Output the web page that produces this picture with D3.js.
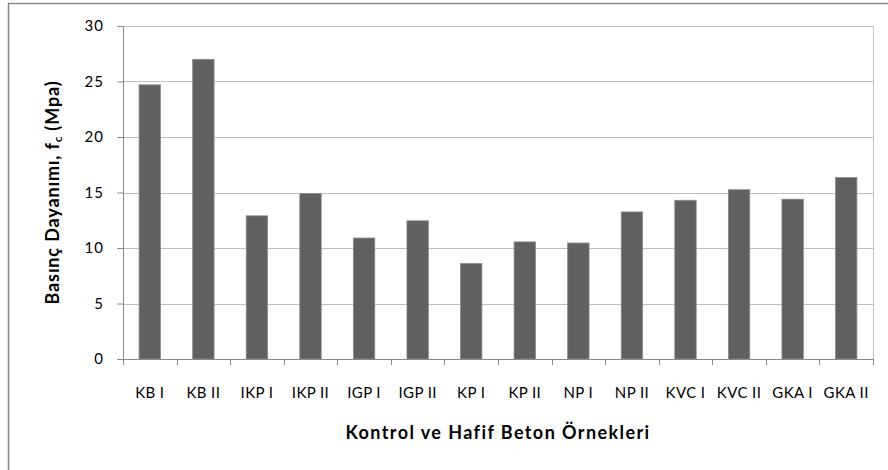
<!DOCTYPE html>
<meta charset="utf-8">
<style>
body { margin: 0; background: #fff; }
text { font-family: Lato, "Open Sans", sans-serif; fill: #000; }
.grid line { stroke: #bdbdbd; stroke-width: 1px; }
.axis path, .axis line { stroke: #8a8a8a; }
.bar { fill: #606060; stroke: #8c8c8c; stroke-width: 0.8px; }
</style>
<svg width="888" height="470"></svg>
<script src="https://d3js.org/d3.v7.min.js"></script>
<script>

var categories = ["KB I", "KB II", "IKP I", "IKP II", "IGP I", "IGP II", "KP I", "KP II",
                  "NP I", "NP II", "KVC I", "KVC II", "GKA I", "GKA II"];
var values = [24.7, 27.0, 12.9, 14.9, 10.9, 12.45, 8.6, 10.55, 10.45, 13.25, 14.3, 15.25, 14.4, 16.35];
var yTicks = [0, 5, 10, 15, 20, 25, 30];

var svg = d3.select("svg");
var margin = {left: 123, right: 15, top: 26, bottom: 111};
var width = 888 - margin.left - margin.right,
    height = 470 - margin.top - margin.bottom;

// outer chart frame (runs off the right and bottom edges)
svg.append("rect")
    .attr("x", 8.5).attr("y", 3.5)
    .attr("width", 900).attr("height", 500)
    .attr("fill", "none")
    .attr("stroke", "#878787")
    .attr("stroke-width", 1.5);

var g = svg.append("g").attr("transform", "translate(" + margin.left + "," + margin.top + ")");

var x = d3.scaleBand()
    .domain(categories)
    .range([0, width])
    .paddingInner(0.6)
    .paddingOuter(0.3);

var y = d3.scaleLinear()
    .domain([0, 30])
    .range([height, 0]);

// gridlines
g.append("g").attr("class", "grid")
  .selectAll("line")
  .data(yTicks.filter(function(d) { return d > 0; }))
  .enter().append("line")
    .attr("x1", 0).attr("x2", width)
    .attr("y1", function(d) { return Math.round(y(d)) + 0.5; })
    .attr("y2", function(d) { return Math.round(y(d)) + 0.5; });

// right border of plot area
g.append("line")
    .attr("x1", width + 0.5).attr("x2", width + 0.5)
    .attr("y1", 0).attr("y2", height)
    .attr("stroke", "#c4c4c4");

// bars
g.selectAll(".bar")
    .data(values)
  .enter().append("rect")
    .attr("class", "bar")
    .attr("x", function(d, i) { return x(categories[i]); })
    .attr("width", x.bandwidth())
    .attr("y", function(d) { return y(d); })
    .attr("height", function(d) { return height - y(d); });

// y axis
var yAxis = g.append("g").attr("class", "axis")
    .call(d3.axisLeft(y).tickValues(yTicks).tickSize(6).tickSizeOuter(0).tickPadding(13));
yAxis.selectAll("text").style("font-size", "15px").style("letter-spacing", "1px");

// x axis: labels
var xAxis = g.append("g").attr("class", "axis")
    .attr("transform", "translate(0," + height + ")")
    .call(d3.axisBottom(x).tickSize(0).tickPadding(28));
xAxis.selectAll("text").style("font-size", "15px").style("letter-spacing", "0.4px");

// x axis: tick marks on category boundaries
var gap = (x.step() - x.bandwidth()) / 2;
var bounds = categories.map(function(c) { return x(c) - gap; }).concat([width]);
g.append("g").attr("class", "axis")
    .attr("transform", "translate(0," + height + ")")
  .selectAll("line")
  .data(bounds)
  .enter().append("line")
    .attr("x1", function(d) { return Math.round(d) + 0.5; })
    .attr("x2", function(d) { return Math.round(d) + 0.5; })
    .attr("y1", 0).attr("y2", 6);

// widen a title to the span it takes in the original
function fitWidth(sel, target) {
  var n = sel.text().length;
  var len = sel.node().getComputedTextLength();
  sel.style("letter-spacing", ((target - len) / n) + "px");
}

// axis titles
var xt = svg.append("text")
    .attr("x", margin.left + width / 2)
    .attr("y", 439)
    .attr("text-anchor", "middle")
    .style("font-size", "18px")
    .style("font-weight", "bold")
    .text("Kontrol ve Hafif Beton Örnekleri");
fitWidth(xt, 305);

var yt = svg.append("text")
    .attr("transform", "translate(59," + (margin.top + height / 2) + ") rotate(-90)")
    .attr("text-anchor", "middle")
    .style("font-size", "18px")
    .style("font-weight", "bold");
yt.append("tspan").text("Basınç Dayanımı, f");
yt.append("tspan").attr("dy", 3).style("font-size", "11px").text("c");
yt.append("tspan").attr("dy", -3).text(" (Mpa)");
fitWidth(yt, 224);

</script>
